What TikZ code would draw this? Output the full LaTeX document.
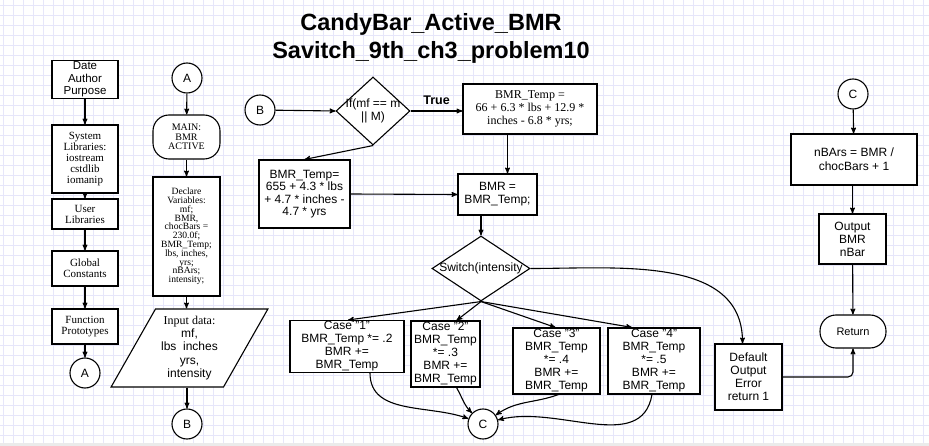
\documentclass[tikz,border=0pt]{standalone}
\usepackage{fontspec}
\setmainfont{Liberation Serif}
\setsansfont{Liberation Sans}
\usetikzlibrary{arrows,shapes.geometric}

\begin{document}
\begin{tikzpicture}[x=1pt,y=-1pt,>=stealth',line width=1.1pt,
  grid line/.style={draw={rgb,255:red,230;green,230;blue,250},line width=0.5pt},
  proc node/.style={rectangle,draw,fill=white,align=center,inner sep=1pt,font=\sffamily\fontsize{12}{13}\selectfont},
  serif node/.style={proc node,font=\rmfamily\fontsize{11}{11}\selectfont},
  term node/.style={proc node,rounded corners=16pt},
  conn node/.style={circle,draw,fill=white,minimum size=30pt,inner sep=0pt,font=\sffamily\fontsize{12}{14}\selectfont},
  dec node/.style={diamond,draw,fill=white,inner sep=0pt},
  dec text/.style={align=center,inner sep=0pt,font=\sffamily\fontsize{12}{13}\selectfont},
  io node/.style={trapezium,trapezium left angle=60,trapezium right angle=120,trapezium stretches=true,
    draw,fill=white,align=center,inner sep=0pt,font=\sffamily\fontsize{12}{13.3}\selectfont}]

  \useasboundingbox (0,0) rectangle (929,446);
  \fill[white] (0,0) rectangle (929,446);
  \foreach \gx in {3,13,...,923} \draw[grid line] (\gx,0) -- (\gx,446);
  \foreach \gy in {5,15,...,440} \draw[grid line] (0,\gy) -- (929,\gy);
  \fill[black!8] (0,443) rectangle (929,446);

  \node[align=center,font=\sffamily\bfseries\fontsize{23.5}{28}\selectfont] (title) at (431,38)
    {CandyBar\_Active\_BMR\\Savitch\_9th\_ch3\_problem10};

  % left column
  \node[proc node,font=\sffamily\fontsize{11.5}{12.7}\selectfont,minimum width=66pt,minimum height=37pt] (head) at (85,79.5) {Date\\Author\\Purpose};
  \node[serif node,minimum width=66pt,minimum height=68pt] (syslib) at (85,159) {System\\Libraries:\\iostream\\cstdlib\\iomanip};
  \node[serif node,minimum width=66pt,minimum height=30pt] (userlib) at (85,214) {User\\Libraries};
  \node[serif node,minimum width=66pt,minimum height=35pt] (globals) at (85,268.5) {Global\\Constants};
  \node[serif node,minimum width=66pt,minimum height=35pt] (protos) at (85,326.5) {Function\\Prototypes};
  \node[conn node] (a1) at (85,373) {A};

  % main column
  \node[conn node] (a2) at (187,78) {A};
  \node[term node,font=\rmfamily\fontsize{10}{9.7}\selectfont,minimum width=67pt,minimum height=44pt] (main) at (186.5,137) {MAIN:\\BMR\\ACTIVE};
  \node[serif node,font=\rmfamily\fontsize{9.6}{8.8}\selectfont,minimum width=67pt,minimum height=119pt] (declare) at (186.5,236.5)
    {Declare\\Variables:\\mf;\\BMR,\\chocBars =\\230.0f;\\BMR\_Temp;\\lbs, inches,\\yrs;\\nBArs;\\intensity;};
  \node[io node,minimum width=157pt,minimum height=78pt] (input) at (189.5,348)
    {{\rmfamily Input data:}\\mf,\\lbs~~inches\\yrs,\\intensity};
  \node[conn node] (b1) at (187,424) {B};

  % calculation
  \node[conn node] (b2) at (260,110) {B};
  \node[dec node,minimum width=74pt,minimum height=68pt] (ifsex) at (373,111) {};
  \node[dec text] (iftext) at (ifsex) {If(mf == m\\|| M)};
  \node[serif node,font=\rmfamily\fontsize{12}{13}\selectfont,minimum width=134pt,minimum height=50pt] (bmra) at (530,109)
    {BMR\_Temp =\\66 + 6.3 * lbs + 12.9 *\\inches - 6.8 * yrs;};
  \node[proc node,font=\sffamily\fontsize{12}{12.3}\selectfont,minimum width=91pt,minimum height=68pt] (bmrb) at (304.5,194)
    {BMR\_Temp=\\655 + 4.3 * lbs\\+ 4.7 * inches -\\4.7 * yrs};
  \node[proc node,minimum width=79pt,minimum height=41pt] (bmr) at (497.5,194.5) {BMR =\\BMR\_Temp;};
  \node[dec node,minimum width=98pt,minimum height=65pt] (sw) at (481,268.5) {};
  \node[dec text] (swtext) at (sw) {Switch(intensity};

  % cases
  \node[proc node,minimum width=114pt,minimum height=51pt] (case1) at (347,346.5) {Case "1"\\BMR\_Temp *= .2\\BMR +=\\BMR\_Temp};
  \node[proc node,minimum width=69pt,minimum height=66pt] (case2) at (445.5,354) {Case "2"\\BMR\_Temp\\*= .3\\BMR +=\\BMR\_Temp};
  \node[proc node,minimum width=87pt,minimum height=66pt] (case3) at (556.5,361) {Case "3"\\BMR\_Temp\\*= .4\\BMR +=\\BMR\_Temp};
  \node[proc node,minimum width=92pt,minimum height=66pt] (case4) at (654,361) {Case "4"\\BMR\_Temp\\*= .5\\BMR +=\\BMR\_Temp};
  \node[proc node,minimum width=67pt,minimum height=66pt] (default) at (748.5,377) {Default\\Output\\Error\\return 1};
  \node[conn node] (c1) at (483,424) {C};

  % output column
  \node[conn node] (c2) at (853,94) {C};
  \node[proc node,font=\sffamily\fontsize{12}{14}\selectfont,minimum width=126pt,minimum height=51pt] (nbars) at (854,159.5) {nBArs = BMR /\\chocBars + 1};
  \node[proc node,minimum width=67pt,minimum height=50pt] (output) at (852.5,239) {Output\\BMR\\nBar};
  \node[term node,font=\sffamily\fontsize{11}{13}\selectfont,minimum width=66pt,minimum height=33pt] (ret) at (853,331.5) {Return};

  \path[->]
    (head) edge (syslib)
    (syslib) edge (userlib)
    (userlib) edge (globals)
    (globals) edge (protos)
    (protos) edge (a1)
    (a2) edge (main)
    (main) edge (declare)
    (declare.south) edge (declare.south |- input.north)
    (input.south -| b1) edge (b1)
    (b2) edge (ifsex.west)
    (ifsex.east) edge node[above=2pt,font=\sffamily\bfseries\fontsize{12.5}{14}\selectfont] {True} (bmra.west |- ifsex.east)
    (ifsex.south) edge (bmrb.north)
    ([xshift=10pt]bmr.north |- bmra.south) edge ([xshift=10pt]bmr.north)
    (bmrb.east) edge (bmr.west)
    (bmr.south -| sw) edge (sw.north)
    (sw.south) edge ([xshift=1pt]case1.north)
    (sw.south) edge ([xshift=11pt]case2.north)
    (sw.south) edge ([xshift=-1pt]case3.north)
    (sw.south) edge ([xshift=-22pt]case4.north)
    (sw.east) edge[out=0,in=90] ([xshift=-6pt]default.north)
    ([xshift=23pt]case1.south) edge[out=-90,in=160] (c1)
    ([xshift=11pt]case2.south) edge[out=-60,in=135] (c1)
    ([xshift=2pt]case3.south) edge[out=-160,in=35] (c1)
    ([xshift=-2pt]case4.south) edge[out=-100,in=15] (c1)
    (c2) edge (nbars)
    (nbars.south -| output) edge (output)
    (output) edge (ret);

  \draw[->,rounded corners=5pt] (default.east) -| (ret.south);

\end{tikzpicture}
\end{document}
